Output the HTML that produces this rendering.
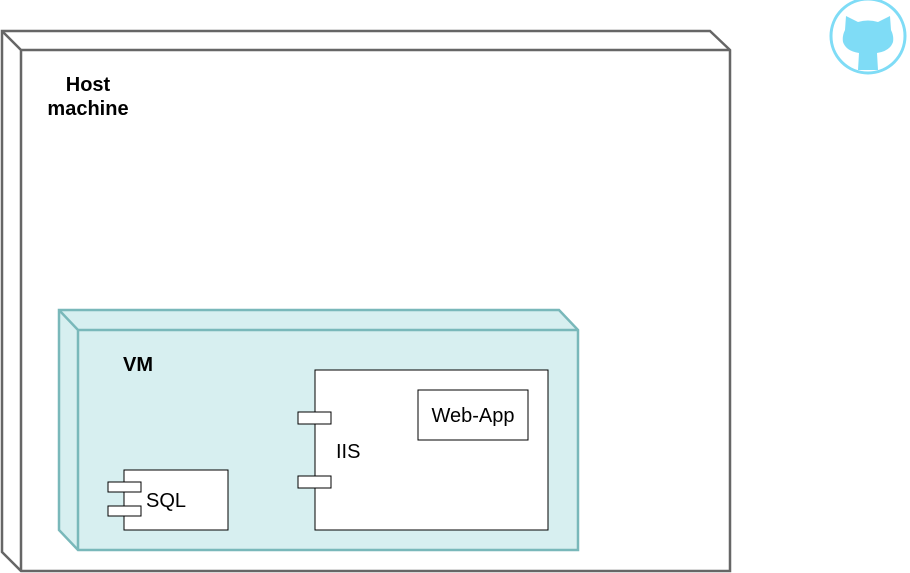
<!DOCTYPE html>
<html><head><style>body{margin:0;background:#fff}svg{display:block}</style></head><body>
<svg width="910" height="573" xmlns="http://www.w3.org/2000/svg" font-family="Liberation Sans, sans-serif">
<!-- Host -->
<path d="M2,31 L710,31 L730,50 L730,571 L21,571 L2,552 Z" fill="#fff" stroke="#666" stroke-width="2.5"/>
<path d="M2,31 L21,50 L730,50 M21,50 L21,571" fill="none" stroke="#666" stroke-width="2.5"/>
<text x="88" y="91" font-size="20" font-weight="bold" text-anchor="middle">Host</text>
<text x="88" y="115" font-size="20" font-weight="bold" text-anchor="middle">machine</text>
<!-- VM -->
<path d="M59,310 L559,310 L578,330 L578,550 L78,550 L59,530 Z" fill="#d7eff0" stroke="#79b8ba" stroke-width="2.5"/>
<path d="M59,310 L78,330 L578,330 M78,330 L78,550" fill="none" stroke="#79b8ba" stroke-width="2.5"/>
<text x="138" y="371" font-size="20" font-weight="bold" text-anchor="middle">VM</text>
<!-- SQL -->
<rect x="124" y="470" width="104" height="60" fill="#fff" stroke="#000"/>
<rect x="108" y="482" width="33" height="10" fill="#fff" stroke="#000"/>
<rect x="108" y="506" width="33" height="10" fill="#fff" stroke="#000"/>
<text x="146" y="507" font-size="20">SQL</text>
<!-- IIS -->
<rect x="315" y="370" width="233" height="160" fill="#fff" stroke="#000"/>
<rect x="298" y="412" width="33" height="12" fill="#fff" stroke="#000"/>
<rect x="298" y="476" width="33" height="12" fill="#fff" stroke="#000"/>
<text x="336" y="458" font-size="20">IIS</text>
<rect x="418" y="390" width="110" height="50" fill="#fff" stroke="#000"/>
<text x="473" y="422" font-size="20" text-anchor="middle">Web-App</text>
<!-- GitHub icon -->
<circle cx="868" cy="36" r="37" fill="#fff" stroke="#7fdcf6" stroke-width="3"/>
<path d="M845,30 L846,16 L858,22 Q868,19 878,22 L890,16 L891,30 Q894,36 893,42 Q890,51 877,53 L878,70 L858,70 L859,53 Q846,51 843,42 Q842,36 845,30 Z" fill="#7fdcf6"/>
</svg>
</body></html>
